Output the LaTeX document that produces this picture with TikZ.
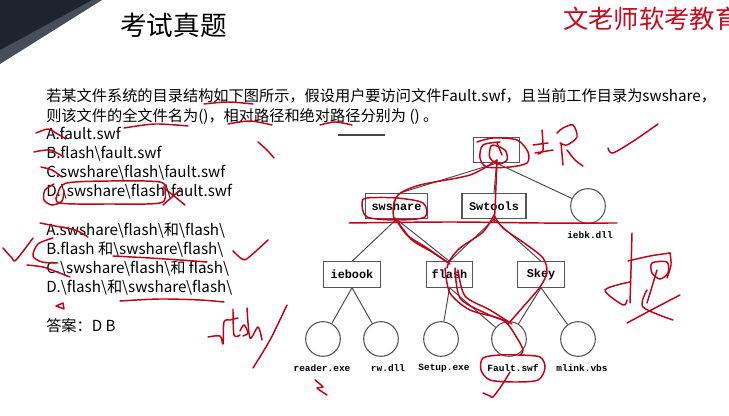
\documentclass[tikz,border=0pt]{standalone}
\usepackage{fontspec}
\setmainfont{Noto Sans CJK SC}
\newfontfamily\monofont{Liberation Mono}
\begin{document}
\begin{tikzpicture}[x=0.75pt,y=-0.75pt,
  inkred/.style={draw=penred,line width=1.1pt,line cap=round,line join=round},
  dirbox/.style={draw=boxgray,line width=0.8pt,fill=white,minimum width=#1,minimum height=19pt,inner sep=0pt,font=\monofont\bfseries\fontsize{8.9pt}{10pt}\selectfont},
  filecirc/.style={draw=boxgray,line width=0.8pt,fill=white,circle,minimum size=26pt,inner sep=0pt},
  flabel/.style={font=\monofont\bfseries\fontsize{7.1pt}{8pt}\selectfont,inner sep=0pt},
  qtext/.style={anchor=base west,inner sep=0pt,font=\fontsize{11.4pt}{13pt}\selectfont},
  edge/.style={draw=linegray,line width=0.7pt}]
\definecolor{penred}{RGB}{196,0,24}
\definecolor{brandred}{RGB}{200,10,30}
\definecolor{boxgray}{RGB}{85,85,85}
\definecolor{linegray}{RGB}{70,70,70}
\definecolor{cornerdark}{RGB}{30,36,46}
\definecolor{cornermid}{RGB}{70,78,90}

% page frame
\fill[white] (0,0) rectangle (729,416);
\useasboundingbox (0,0) rectangle (729,416);

% corner decoration
\fill[cornermid] (0,0) -- (102,0) -- (0,64) -- cycle;
\fill[cornerdark] (0,0) -- (92,0) -- (0,50) -- cycle;

% headings
\node[anchor=base west,inner sep=0pt,font=\fontsize{20pt}{24pt}\selectfont] (title) at (120,36) {考试真题};
\node[anchor=base west,inner sep=0pt,font=\fontsize{19pt}{22pt}\selectfont,text=brandred] (brand) at (563,29) {文老师软考教育};

% question
\node[qtext] (q1) at (46,102) {若某文件系统的目录结构如下图所示，假设用户要访问文件Fault.swf，且当前工作目录为swshare，};
\node[qtext] (q2) at (46,122) {则该文件的全文件名为()，相对路径和绝对路径分别为 () 。};
\node[qtext] (a1) at (46,140) {A.fault.swf};
\node[qtext] (b1) at (46,159) {B.flash\textbackslash fault.swf};
\node[qtext] (c1) at (46,178) {C.swshare\textbackslash flash\textbackslash fault.swf};
\node[qtext] (d1) at (46,197) {D.\textbackslash swshare\textbackslash flash\textbackslash fault.swf};
\node[qtext] (a2) at (46,236) {A.swshare\textbackslash flash\textbackslash 和\textbackslash flash\textbackslash};
\node[qtext] (b2) at (46,255) {B.flash 和\textbackslash swshare\textbackslash flash\textbackslash};
\node[qtext] (c2) at (46,274) {C.\textbackslash swshare\textbackslash flash\textbackslash 和 flash\textbackslash};
\node[qtext] (d2) at (46,293) {D.\textbackslash flash\textbackslash 和\textbackslash swshare\textbackslash flash\textbackslash};
\node[qtext] (ans) at (46,332) {答案：D B};

\coordinate (rs) at (338,135);
\coordinate (re) at (385,135);
\draw[linegray,line width=0.8pt] (rs) -- (re);

% directory tree
\node[dirbox=35pt] (root) at (496.5,150) {};
\node[dirbox=47pt] (swshare) at (396.5,206) {swshare};
\node[dirbox=48pt] (swtools) at (494,206) {Swtools};
\node[filecirc] (iebk) at (588,206) {};
\node[dirbox=43pt] (iebook) at (352,274.5) {iebook};
\node[dirbox=35pt] (flash) at (449.5,274.5) {flash};
\node[dirbox=35pt] (skey) at (541,274.5) {Skey};
\node[filecirc] (reader) at (323,339) {};
\node[filecirc] (rw) at (381,339) {};
\node[filecirc] (setup) at (441,339) {};
\node[filecirc] (fault) at (509,339) {};
\node[filecirc] (mlink) at (578,339) {};

\node[flabel] (liebk) at (590,235) {iebk.dll};
\node[flabel] (lreader) at (322,368) {reader.exe};
\node[flabel] (lrw) at (388,368) {rw.dll};
\node[flabel] (lsetup) at (444,368) {Setup.exe};
\node[flabel] (lfault) at (513,368) {Fault.swf};
\node[flabel] (lmlink) at (582,368) {mlink.vbs};

\begin{scope}[on background layer/.style={}]
\draw[edge] (root.south) -- ([xshift=3pt]swshare.north);
\draw[edge] (root.south) -- (swtools.north);
\draw[edge] (root.south) -- (iebk);
\draw[edge] (swshare.south) -- (iebook.north);
\draw[edge] (swshare.south) -- (flash.north);
\draw[edge] (swtools.south) -- (flash.north);
\draw[edge] (swtools.south) -- (skey.north);
\draw[edge] (iebook.south) -- (reader);
\draw[edge] (iebook.south) -- (rw);
\draw[edge] (flash.south) -- (setup);
\draw[edge] (flash.south) -- (fault);
\draw[edge] (skey.south) -- (fault);
\draw[edge] (skey.south) -- (mlink);
\end{scope}

% ---- red pen marks ----
% underlines in the question
\draw[inkred] plot[smooth] coordinates {(204,104)(228,102)(253,104)};
\draw[inkred] plot[smooth] coordinates {(124,128)(155,124)(188,126)};
\draw[inkred] plot[smooth] coordinates {(228,124)(250,121)(272,125)};
\draw[inkred] plot[smooth] coordinates {(320,125)(335,122)(352,125)};
% first option group
\draw[inkred] plot[smooth] coordinates {(36,133)(48,129)(56,133)(66,139)};
\draw[inkred] plot[smooth] coordinates {(34,152)(50,150)(64,157)};
\draw[inkred] plot[smooth] coordinates {(41,167)(52,170)(62,177)};
\draw[inkred] plot[smooth cycle] coordinates {(67,183)(110,181)(160,182)(165,192)(160,203)(110,204)(60,203)(58,193)};
\draw[inkred] plot[smooth] coordinates {(54,184)(45,190)(44,200)(52,205)(62,201)(64,190)};
\draw[inkred] (163,187) -- (185,205);
\draw[inkred] (163,205) -- (180,190);
\draw[inkred] plot[smooth] coordinates {(258,142)(267,150)(274,158)};
% second option group
\draw[inkred] plot[smooth] coordinates {(40,223)(55,226)(75,230)(88,237)};
\draw[inkred] plot[smooth] coordinates {(53,238)(38,244)(33,256)(42,262)(58,263)};
\draw[inkred] plot[smooth] coordinates {(27,265)(43,267)(57,272)(70,277)};
\draw[inkred] plot[smooth] coordinates {(113,256)(150,258)(180,260)(207,262)};
\draw[inkred] plot[smooth] coordinates {(120,301)(160,299)(200,300)(224,302)};
\draw[inkred] plot[smooth] coordinates {(233,251)(242,259)(248,258)(268,240)};
\draw[inkred] plot[smooth] coordinates {(3,248)(12,258)(16,260)(33,238)};
\draw[inkred] (56,306) -- (63,303) -- (64,309) -- cycle;
% handwritten "flash"
\draw[inkred] plot[smooth] coordinates {(208,337)(220,336)(223,344)(224,322)(230,320)(238,318)};
\draw[inkred] plot[smooth] coordinates {(233,309)(234,335)(240,335)};
\draw[inkred] plot[smooth] coordinates {(240,331)(244,325)(248,333)(243,336)};
\draw[inkred] plot[smooth] coordinates {(247,308)(250,338)(258,327)(262,340)};
\draw[inkred] plot[smooth] coordinates {(287,305)(270,340)(253,368)};
% marks on the tree
\draw[inkred] plot[smooth] coordinates {(349,223)(450,222)(540,223)(617,223)};
\draw[inkred] plot[smooth] coordinates {(477,142)(493,138)(517,140)(528,152)(527,163)(510,167)(487,167)(480,158)(483,145)(500,142)};
\draw[inkred] plot[smooth cycle] coordinates {(493,145)(505,150)(507,160)(498,164)(490,158)(490,149)};
\draw[inkred] (497,143) -- (502,155);
\draw[inkred] plot[smooth] coordinates {(497,160)(496,185)(495,210)(494,222)};
\draw[inkred] plot[smooth] coordinates {(497,160)(470,175)(420,185)(398,195)(393,210)(395,222)};
\draw[inkred] plot[smooth cycle] coordinates {(362,203)(367,198)(397,198)(423,203)(425,217)(397,220)(367,217)};
% handwritten root character
\draw[inkred] (533,145) -- (548,143);
\draw[inkred] plot[smooth] coordinates {(542,130)(543,150)(538,154)};
\draw[inkred] (535,153) -- (553,150);
\draw[inkred] plot[smooth] coordinates {(557,133)(563,128)(573,125)(577,137)(567,145)(560,143)};
\draw[inkred] plot[smooth] coordinates {(561,143)(563,165)};
\draw[inkred] plot[smooth] coordinates {(567,150)(575,160)(583,166)};
% paths traced down to Fault.swf
\draw[inkred] plot[smooth] coordinates {(494,215)(483,232)(460,248)(450,260)(447,268)};
\draw[inkred] plot[smooth] coordinates {(494,215)(503,228)(527,245)(543,258)(547,272)(540,287)(523,307)(508,324)};
\draw[inkred] plot[smooth] coordinates {(395,218)(407,235)(427,248)(447,262)};
\draw[inkred] plot[smooth] coordinates {(398,222)(412,240)(432,252)(450,264)};
\draw[inkred] plot[smooth] coordinates {(445,268)(450,293)(470,310)(503,320)(517,338)(523,350)(520,355)};
\draw[inkred] plot[smooth] coordinates {(455,268)(460,298)(485,313)(508,322)};
\draw[inkred] plot[smooth] coordinates {(458,270)(465,296)(490,310)(512,324)};
\draw[inkred] plot[smooth cycle] coordinates {(483,358)(500,355)(518,355)(540,357)(545,368)(538,380)(515,382)(490,380)(481,370)};
\draw[inkred] plot[smooth] coordinates {(483,393)(490,396)(493,397)(502,385)(510,372)};
\draw[inkred] plot[smooth] coordinates {(315,380)(323,387)(317,388)(327,395)};
% tick and large character on the right
\draw[inkred] plot[smooth] coordinates {(608,148)(613,153)(635,140)(658,124)};
\draw[inkred] plot[smooth] coordinates {(632,233)(631,270)(630,303)};
\draw[inkred] plot[smooth] coordinates {(628,261)(650,256)(670,253)};
\draw[inkred] plot[smooth cycle] coordinates {(652,263)(667,262)(668,273)(660,279)(652,273)};
\draw[inkred] plot[smooth] coordinates {(670,253)(671,265)(667,278)};
\draw[inkred] plot[smooth] coordinates {(630,282)(605,290)(623,305)(627,300)};
\draw[inkred] plot[smooth] coordinates {(657,270)(651,290)(647,303)};
\draw[inkred] plot[smooth] coordinates {(627,323)(655,308)(680,295)};
\draw[inkred] plot[smooth] coordinates {(647,290)(643,307)(673,320)};
\end{tikzpicture}
\end{document}
